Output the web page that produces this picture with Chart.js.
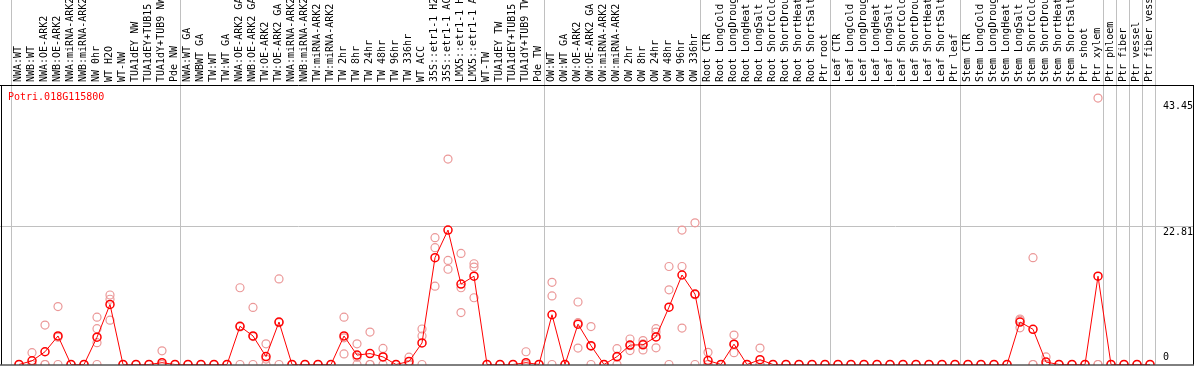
<!DOCTYPE html>
<html>
<head>
<meta charset="utf-8">
<script src="https://cdn.jsdelivr.net/npm/chart.js@4.4.1/dist/chart.umd.min.js"></script>
<style>
  html, body { margin: 0; padding: 0; background: #fff; }
  canvas { display: block; }
</style>
</head>
<body>
<canvas id="chart" width="1194" height="370"></canvas>
<script>
const geneName = "Potri.018G115800";

const samples = [
  "NWA:WT", "NWB:WT", "NWA:OE-ARK2", "NWB:OE-ARK2", "NWA:miRNA-ARK2", "NWB:miRNA-ARK2", "NW 0hr", "WT H2O", "WT-NW", "TUA1dEY NW",
  "TUA1dEY+TUB15 NW", "TUA1dY+TUB9 NW", "Pde NW", "NWA:WT GA", "NWBWT GA", "TW:WT", "TW:WT GA", "NWA:OE-ARK2 GA", "NWB:OE-ARK2 GA", "TW:OE-ARK2",
  "TW:OE-ARK2 GA", "NWA:miRNA-ARK2 GA", "NWB:miRNA-ARK2 GA", "TW:miRNA-ARK2", "TW:miRNA-ARK2 GA", "TW 2hr", "TW 8hr", "TW 24hr", "TW 48hr", "TW 96hr",
  "TW 336hr", "WT ACC", "35S::etr1-1 H2O", "35S::etr1-1 ACC", "LMX5::etr1-1 H2O", "LMX5::etr1-1 ACC", "WT-TW", "TUA1dEY TW", "TUA1dEY+TUB15 TW", "TUA1dY+TUB9 TW",
  "Pde TW", "OW:WT", "OW:WT GA", "OW:OE-ARK2", "OW:OE-ARK2 GA", "OW:miRNA-ARK2", "OW:miRNA-ARK2 GA", "OW 2hr", "OW 8hr", "OW 24hr",
  "OW 48hr", "OW 96hr", "OW 336hr", "Root CTR", "Root LongCold", "Root LongDrought", "Root LongHeat", "Root LongSalt", "Root ShortCold", "Root ShortDrought",
  "Root ShortHeat", "Root ShortSalt", "Ptr root", "Leaf CTR", "Leaf LongCold", "Leaf LongDrought", "Leaf LongHeat", "Leaf LongSalt", "Leaf ShortCold", "Leaf ShortDrought",
  "Leaf ShortHeat", "Leaf ShortSalt", "Ptr leaf", "Stem CTR", "Stem LongCold", "Stem LongDrought", "Stem LongHeat", "Stem LongSalt", "Stem ShortCold", "Stem ShortDrought",
  "Stem ShortHeat", "Stem ShortSalt", "Ptr shoot", "Ptr xylem", "Ptr phloem", "Ptr fiber", "Ptr vessel", "Ptr fiber vessel"
];

// mean expression per sample (the red line)
const meanValues = [
  0, 0.6, 2.1, 4.7, 0, 0, 4.5, 9.9, 0, 0,
  0, 0.3, 0, 0, 0, 0, 0, 6.3, 4.7, 1.3,
  7.0, 0, 0, 0, 0, 4.7, 1.55, 1.8, 1.25, 0,
  0.5, 3.55, 17.6, 22.15, 13.25, 14.55, 0, 0, 0, 0.3,
  0, 8.2, 0, 6.65, 3.1, 0, 1.3, 3.2, 3.25, 4.55,
  9.45, 14.75, 11.6, 0.65, 0, 3.35, 0, 0.8, 0, 0,
  0, 0, 0, 0, 0, 0, 0, 0, 0, 0,
  0, 0, 0, 0, 0, 0, 0, 7.0, 5.8, 0.4,
  0, 0, 0, 14.55, 0, 0, 0, 0
];

// individual replicates per sample (pale circles)
const replicates = [
  [0, 0, 0], [1.95, 0, 0], [6.5, 0, 0], [9.55, 4.5, 0], [0, 0, 0], [0, 0, 0], [7.8, 5.9, 3.6, 0], [11.45, 10.75, 7.3], [0, 0, 0], [0, 0, 0],
  [0, 0, 0], [2.25, 0, 0], [0, 0, 0], [0, 0, 0], [0, 0, 0], [0, 0, 0], [0, 0, 0], [12.65, 6.2, 0], [9.4, 4.6, 0], [3.4, 0.9, 0],
  [14.1, 6.9, 0], [0, 0, 0], [0, 0, 0], [0, 0, 0], [0, 0, 0], [7.8, 4.4, 1.75], [3.4, 1.2, 0], [5.35, 0, 0], [2.65, 1.3, 0], [0, 0, 0],
  [1.2, 0, 0], [5.85, 4.7, 0], [20.9, 19.25, 12.9], [33.85, 17.15, 15.7], [18.3, 12.65, 8.55], [16.6, 16.05, 11.0], [0, 0, 0], [0, 0, 0], [0, 0, 0], [2.1, 0, 0],
  [0, 0, 0], [13.55, 11.3, 0], [0, 0, 0], [10.3, 6.9, 2.7], [6.25, 3.0, 0], [0, 0, 0], [2.6, 1.2, 0], [4.2, 3.1, 2.3], [3.95, 3.4, 2.4], [5.9, 5.35, 2.75],
  [16.15, 12.3, 0], [22.15, 16.15, 6.0], [23.35, 11.5, 0], [2.0, 0, 0], [0, 0, 0], [4.85, 3.3, 1.95], [0, 0, 0], [2.7, 0, 0], [0, 0, 0], [0, 0, 0],
  [0, 0, 0], [0, 0, 0], [0, 0, 0], [0, 0, 0], [0, 0, 0], [0, 0, 0], [0, 0, 0], [0, 0, 0], [0, 0, 0], [0, 0, 0],
  [0, 0, 0], [0, 0, 0], [0, 0, 0], [0, 0, 0], [0, 0, 0], [0, 0, 0], [0, 0, 0], [7.5, 7.3, 6.05], [17.6, 0, 0], [1.25, 0, 0],
  [0, 0, 0], [0, 0, 0], [0, 0, 0], [43.9, 0, 0], [0, 0, 0], [0, 0, 0], [0, 0, 0], [0, 0, 0]
];

// last sample index of each group (gray separators)
const groupEnds = [-1, 12, 40, 52, 62, 72, 83, 84, 85, 86, 87];
const yTickValues = [0, 22.81, 43.45];
const yMax = 46.06;

const FONT = "10px 'DejaVu Sans Mono', monospace";

const repCount = Math.max(...replicates.map(r => r.length));
const repSets = [];
for (let k = 0; k < repCount; k++) {
  repSets.push({
    label: "rep " + (k + 1),
    data: replicates.map(r => (r[k] === undefined ? null : r[k])),
    showLine: false,
    pointRadius: 4,
    pointBorderWidth: 1.2,
    pointBorderColor: "#eb9898",
    pointBackgroundColor: "rgba(0,0,0,0)"
  });
}

const decorations = {
  id: "decorations",
  beforeDatasetsDraw(chart) {
    const { ctx, scales: { x, y } } = chart;
    ctx.save();
    ctx.strokeStyle = "#c0c0c0";
    ctx.lineWidth = 1;
    groupEnds.forEach(i => {
      const gx = Math.round(x.getPixelForValue(i) + 5) + 0.5;
      ctx.beginPath();
      ctx.moveTo(gx, 0);
      ctx.lineTo(gx, y.bottom);
      ctx.stroke();
    });
    const gy = Math.round(y.getPixelForValue(yTickValues[1])) + 0.5;
    ctx.beginPath();
    ctx.moveTo(0, gy);
    ctx.lineTo(chart.width, gy);
    ctx.stroke();
    ctx.restore();
  },
  afterDraw(chart) {
    const { ctx, scales: { x, y } } = chart;
    ctx.save();
    // frame
    ctx.strokeStyle = "#000";
    ctx.lineWidth = 1;
    ctx.beginPath();
    ctx.moveTo(0, 85.5); ctx.lineTo(chart.width, 85.5);
    ctx.moveTo(0, y.bottom + 0.5); ctx.lineTo(chart.width, y.bottom + 0.5);
    ctx.moveTo(1.5, 85); ctx.lineTo(1.5, y.bottom);
    ctx.moveTo(chart.width - 0.5, 85); ctx.lineTo(chart.width - 0.5, y.bottom);
    ctx.stroke();

    // sample labels, rotated
    ctx.font = FONT;
    ctx.fillStyle = "#000";
    ctx.textAlign = "left";
    ctx.textBaseline = "alphabetic";
    samples.forEach((s, i) => {
      ctx.save();
      ctx.translate(x.getPixelForValue(i) + 2, 82);
      ctx.rotate(-Math.PI / 2);
      ctx.fillText(s, 0, 0);
      ctx.restore();
    });

    // y labels on the right
    ctx.textBaseline = "middle";
    yTickValues.forEach(v => {
      const py = y.getPixelForValue(v);
      ctx.fillText(String(v), 1163, v === 0 ? py - 7 : py + 6);
    });

    // gene name
    ctx.fillStyle = "#ff0000";
    ctx.fillText(geneName, 8, 97);
    ctx.restore();
  }
};

new Chart(document.getElementById("chart"), {
  type: "line",
  data: {
    labels: samples,
    datasets: [
      {
        label: geneName,
        data: meanValues,
        borderColor: "#ff0000",
        borderWidth: 1,
        tension: 0,
        pointRadius: 4,
        pointBorderWidth: 1.5,
        pointBorderColor: "#ff0000",
        pointBackgroundColor: "rgba(0,0,0,0)"
      },
      ...repSets
    ]
  },
  options: {
    responsive: false,
    animation: false,
    devicePixelRatio: 1,
    layout: { padding: { top: 85, bottom: 1, left: 12.5, right: 37.5 } },
    scales: {
      x: { display: false, offset: true },
      y: { display: false, min: 0, max: yMax }
    },
    plugins: { legend: { display: false }, tooltip: { enabled: false } }
  },
  plugins: [decorations]
});
</script>
</body>
</html>
